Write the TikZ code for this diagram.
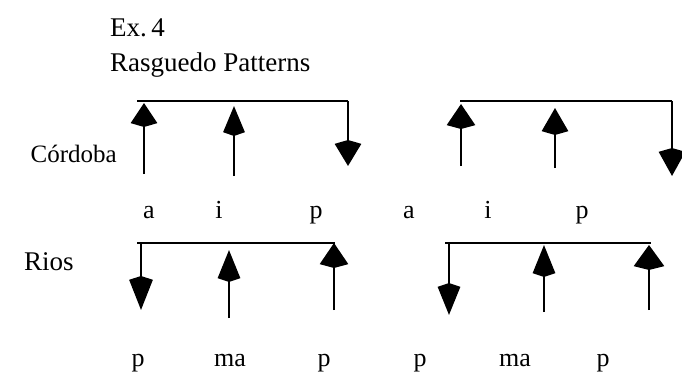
\documentclass[tikz,border=0pt]{standalone}
\usepackage{fontspec}
\setmainfont{Liberation Serif}
\usetikzlibrary{arrows.meta}
\begin{document}
\begin{tikzpicture}[x=1pt,y=-1pt,
  beam/.style={line width=2.8pt},
  stem/.style={line width=2pt},
  lbl/.style={font=\fontsize{26}{26}\selectfont, anchor=base, inner sep=0pt},
  ttl/.style={font=\fontsize{27}{27}\selectfont, inner sep=0pt}]
\useasboundingbox (0,0) rectangle (682,385);
% titles
\node[ttl, anchor=base west] (ex) at (110,37) {Ex.\,4};
\node[ttl, anchor=base west] (rp) at (110,72) {Rasguedo Patterns};
\node[ttl, anchor=base east, font=\fontsize{25}{25}\selectfont] (cor) at (117,162) {Córdoba};
\node[ttl, anchor=base west] (rio) at (24,270) {Rios};
% ---- Cordoba, group 1
\coordinate (A0) at (137,101); \coordinate (A9) at (348,101);
\draw[beam] (A0) -- (A9);
\coordinate (a1t) at (144,174); \coordinate (a1h) at (144,103);
\coordinate (a2t) at (234,176); \coordinate (a2h) at (234,106);
\coordinate (a3t) at (348,101); \coordinate (a3h) at (348,166);
\draw[stem,-{Stealth[length=20pt,width=26pt,inset=-4pt]}] (a1t) -- (a1h);
\draw[stem,-{Stealth[length=26pt,width=21pt,inset=-4pt]}] (a2t) -- (a2h);
\draw[stem,-{Stealth[length=22pt,width=26pt,inset=-4pt]}] (a3t) -- (a3h);
% ---- Cordoba, group 2
\coordinate (B0) at (460,101); \coordinate (B9) at (672,101);
\draw[beam] (B0) -- (B9);
\coordinate (b1t) at (461,166); \coordinate (b1h) at (461,104);
\coordinate (b2t) at (555,168); \coordinate (b2h) at (555,108);
\coordinate (b3t) at (672,101); \coordinate (b3h) at (672,176);
\draw[stem,-{Stealth[length=21pt,width=28pt,inset=-4pt]}] (b1t) -- (b1h);
\draw[stem,-{Stealth[length=23pt,width=26pt,inset=-4pt]}] (b2t) -- (b2h);
\draw[stem,-{Stealth[length=24pt,width=26pt,inset=-4pt]}] (b3t) -- (b3h);
% labels row 1
\node[lbl] (l1) at (149,218) {a};
\node[lbl] (l2) at (219,218) {i};
\node[lbl] (l3) at (316,218) {p};
\node[lbl] (l4) at (409,218) {a};
\node[lbl] (l5) at (488,218) {i};
\node[lbl] (l6) at (582,218) {p};
% ---- Rios, group 1
\coordinate (C0) at (137,243); \coordinate (C9) at (335,243);
\draw[beam] (C0) -- (C9);
\coordinate (c1t) at (141,243); \coordinate (c1h) at (141,310);
\coordinate (c2t) at (229,318); \coordinate (c2h) at (229,250);
\coordinate (c3t) at (334,310); \coordinate (c3h) at (334,243);
\draw[stem,-{Stealth[length=30pt,width=23pt,inset=-4pt]}] (c1t) -- (c1h);
\draw[stem,-{Stealth[length=28pt,width=22pt,inset=-4pt]}] (c2t) -- (c2h);
\draw[stem,-{Stealth[length=21pt,width=28pt,inset=-4pt]}] (c3t) -- (c3h);
% ---- Rios, group 2
\coordinate (D0) at (445,243); \coordinate (D9) at (651,243);
\draw[beam] (D0) -- (D9);
\coordinate (d1t) at (449,243); \coordinate (d1h) at (449,315);
\coordinate (d2t) at (544,312); \coordinate (d2h) at (544,245);
\coordinate (d3t) at (649,310); \coordinate (d3h) at (649,245);
\draw[stem,-{Stealth[length=28pt,width=22pt,inset=-4pt]}] (d1t) -- (d1h);
\draw[stem,-{Stealth[length=28pt,width=22pt,inset=-4pt]}] (d2t) -- (d2h);
\draw[stem,-{Stealth[length=21pt,width=30pt,inset=-4pt]}] (d3t) -- (d3h);
% labels row 2
\node[lbl] (m1) at (138,366) {p};
\node[lbl] (m2) at (230,366) {ma};
\node[lbl] (m3) at (324,366) {p};
\node[lbl] (m4) at (420,366) {p};
\node[lbl] (m5) at (515,366) {ma};
\node[lbl] (m6) at (603,366) {p};
\end{tikzpicture}
\end{document}
